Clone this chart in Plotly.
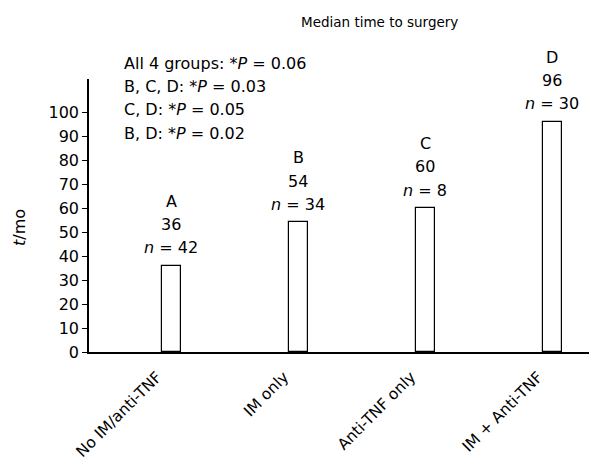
import plotly.graph_objects as go

categories = ["No IM/anti-TNF", "IM only", "Anti-TNF only", "IM + Anti-TNF"]
group_letters = ["A", "B", "C", "D"]
median_months = [36, 54, 60, 96]
n_patients = [42, 34, 8, 30]
p_lines = [
    "All 4 groups: *<i>P</i> = 0.06",
    "B, C, D: *<i>P</i> = 0.03",
    "C, D: *<i>P</i> = 0.05",
    "B, D: *<i>P</i> = 0.02",
]
y_ticks = list(range(0, 101, 10))

FONT = "DejaVu Sans"
fs = 16

fig = go.Figure()
fig.add_trace(go.Bar(
    x=categories, y=median_months, width=0.15,
    marker=dict(color="white", line=dict(color="black", width=1.2)),
    showlegend=False, hoverinfo="skip",
))

annotations = []
for cat, letter, val, n in zip(categories, group_letters, median_months, n_patients):
    lines = [f"<i>n</i> = {n}", str(val), letter]
    for j, t in enumerate(lines):
        annotations.append(dict(
            x=cat, y=val, xref="x", yref="y", text=t, showarrow=False,
            yanchor="middle", xanchor="center", yshift=18 + 23.3 * j,
            font=dict(family=FONT, size=fs, color="black"),
        ))

for j, t in enumerate(p_lines):
    annotations.append(dict(
        x=122, y=461 - 63 - 23.4 * j, xref="paper", yref="paper", text=t,
        showarrow=False, xanchor="left", yanchor="middle",
        font=dict(family=FONT, size=fs, color="black"),
    ))

fig.update_layout(
    width=589, height=461,
    margin=dict(l=89, r=0, t=79, b=109, autoexpand=False),
    plot_bgcolor="white", paper_bgcolor="white",
    font=dict(family=FONT, size=fs, color="black"),
    bargap=0,
)

plot_h = 461 - 79 - 109
plot_w = 589 - 89
for a in annotations:
    if a["xref"] == "paper":
        a["x"] = (a["x"] - 89) / plot_w
        a["y"] = (a["y"] - 109) / plot_h

annotations.append(dict(
    x=(379 - 89) / plot_w, y=(461 - 22 - 109) / plot_h, xref="paper", yref="paper",
    text="Median time to surgery", showarrow=False, xanchor="center", yanchor="middle",
    font=dict(family=FONT, size=13.5, color="black"),
))
annotations.append(dict(
    x=(19 - 89) / plot_w, y=(461 - 228 - 109) / plot_h, xref="paper", yref="paper",
    text="<i>t</i>/mo", showarrow=False, textangle=-90, xanchor="center", yanchor="middle",
    font=dict(family=FONT, size=fs, color="black"),
))

fig.update_layout(annotations=annotations)

fig.update_xaxes(
    range=[-0.646, 3.291], showline=True, linecolor="black", linewidth=1.5,
    ticks="", tickangle=-45, showgrid=False, zeroline=False, automargin=False,
    ticklabelshift=-14, ticklabelstandoff=8,
    tickfont=dict(family=FONT, size=15.5),
)
fig.update_yaxes(
    range=[0, 113.75], showline=True, linecolor="black", linewidth=1.5,
    ticks="outside", ticklen=5, tickwidth=1, tickcolor="black",
    tickvals=y_ticks, showgrid=False, zeroline=False, automargin=False,
    tickfont=dict(family=FONT, size=fs),
)

fig.write_html("out.html", config={"displayModeBar": False},
               post_script="document.body.style.margin='0px';")
